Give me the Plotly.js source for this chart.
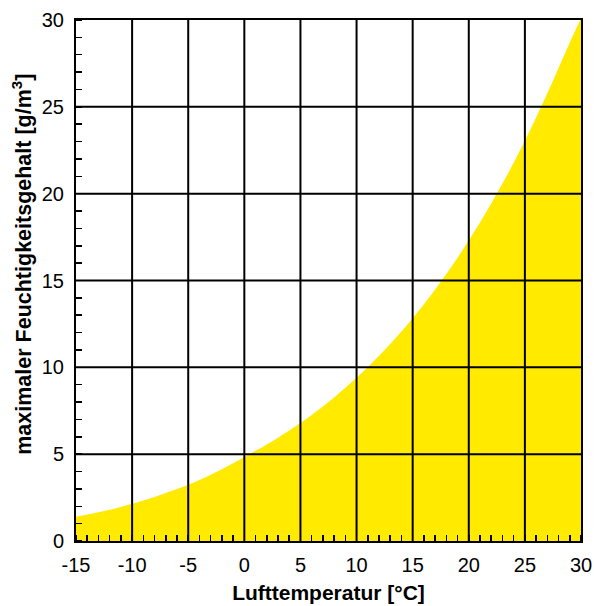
<!DOCTYPE html>
<html><head><meta charset="utf-8">
<script src="https://cdn.plot.ly/plotly-3.0.1.min.js"></script>
<style>html,body{margin:0;padding:0;background:#fff}#chart{width:594px;height:606px}</style>
</head><body><div id="chart"></div>
<script>
const temperatures = [-15,-14,-13,-12,-11,-10,-9,-8,-7,-6,-5,-4,-3,-2,-1,0,1,2,3,4,5,6,7,8,9,10,11,12,13,14,15,16,17,18,19,20,21,22,23,24,25,26,27,28,29,30];
const maxHumidity = [1.39,1.52,1.65,1.80,1.96,2.14,2.33,2.54,2.76,2.99,3.24,3.51,3.81,4.13,4.47,4.84,5.19,5.56,5.95,6.36,6.79,7.26,7.75,8.27,8.82,9.40,10.01,10.66,11.35,12.07,12.83,13.63,14.48,15.37,16.31,17.30,18.34,19.43,20.58,21.78,23.05,24.38,25.78,27.24,28.70,30.10];
const xTicks = [-15,-10,-5,0,5,10,15,20,25,30];
const yTicks = [0,5,10,15,20,25,30];
const xTitle = 'Lufttemperatur [°C]';
const yTitle = 'maximaler Feuchtigkeitsgehalt [g/m<sup>3</sup>]';

const font = 'Liberation Sans, Arial, sans-serif';
const shapes = [];
xTicks.slice(1,-1).forEach(v => shapes.push({type:'line', xref:'x', yref:'paper', x0:v, x1:v, y0:0, y1:1, line:{color:'#000', width:2}, layer:'above'}));
yTicks.slice(1,-1).forEach(v => shapes.push({type:'line', xref:'paper', yref:'y', x0:0, x1:1, y0:v, y1:v, line:{color:'#000', width:2}, layer:'above'}));

const trace = {x: temperatures, y: maxHumidity, type:'scatter', mode:'lines', fill:'tozeroy', fillcolor:'#ffea00', line:{color:'#ffea00', width:0, shape:'spline', smoothing:1}, hoverinfo:'skip'};

const axisCommon = {showgrid:false, zeroline:false, showline:true, mirror:true, linecolor:'#000', linewidth:2, ticks:'', tickfont:{family:font, size:20, color:'#000'}, layer:'above traces', fixedrange:true};

const layout = {
  width:594, height:606,
  margin:{l:76, r:13, t:20, b:65},
  paper_bgcolor:'#fff', plot_bgcolor:'#fff',
  showlegend:false,
  shapes: shapes,
  annotations: [{text:'<b>'+yTitle+'</b>', xref:'paper', yref:'paper', x:-0.107, y:0.532, xanchor:'center', yanchor:'middle', textangle:-90, showarrow:false, font:{family:font, size:21.5, color:'#000'}}],
  xaxis: Object.assign({}, axisCommon, {range:[-15,30], tickvals:xTicks, ticktext:xTicks.map(String), ticklabelstandoff:5,
    minor:{dtick:1, tick0:0, ticks:'inside', ticklen:6, tickcolor:'#000', tickwidth:1.5},
    title:{text:'<b>'+xTitle+'</b>', font:{family:font, size:21, color:'#000'}, standoff:10}}),
  yaxis: Object.assign({}, axisCommon, {range:[0,30], tickvals:yTicks, ticktext:yTicks.map(String), ticklabelstandoff:6,
    minor:{dtick:1, tick0:0, ticks:'inside', ticklen:6, tickcolor:'#000', tickwidth:1.5}})
};
Plotly.newPlot('chart', [trace], layout, {displayModeBar:false, staticPlot:true});
</script></body></html>
